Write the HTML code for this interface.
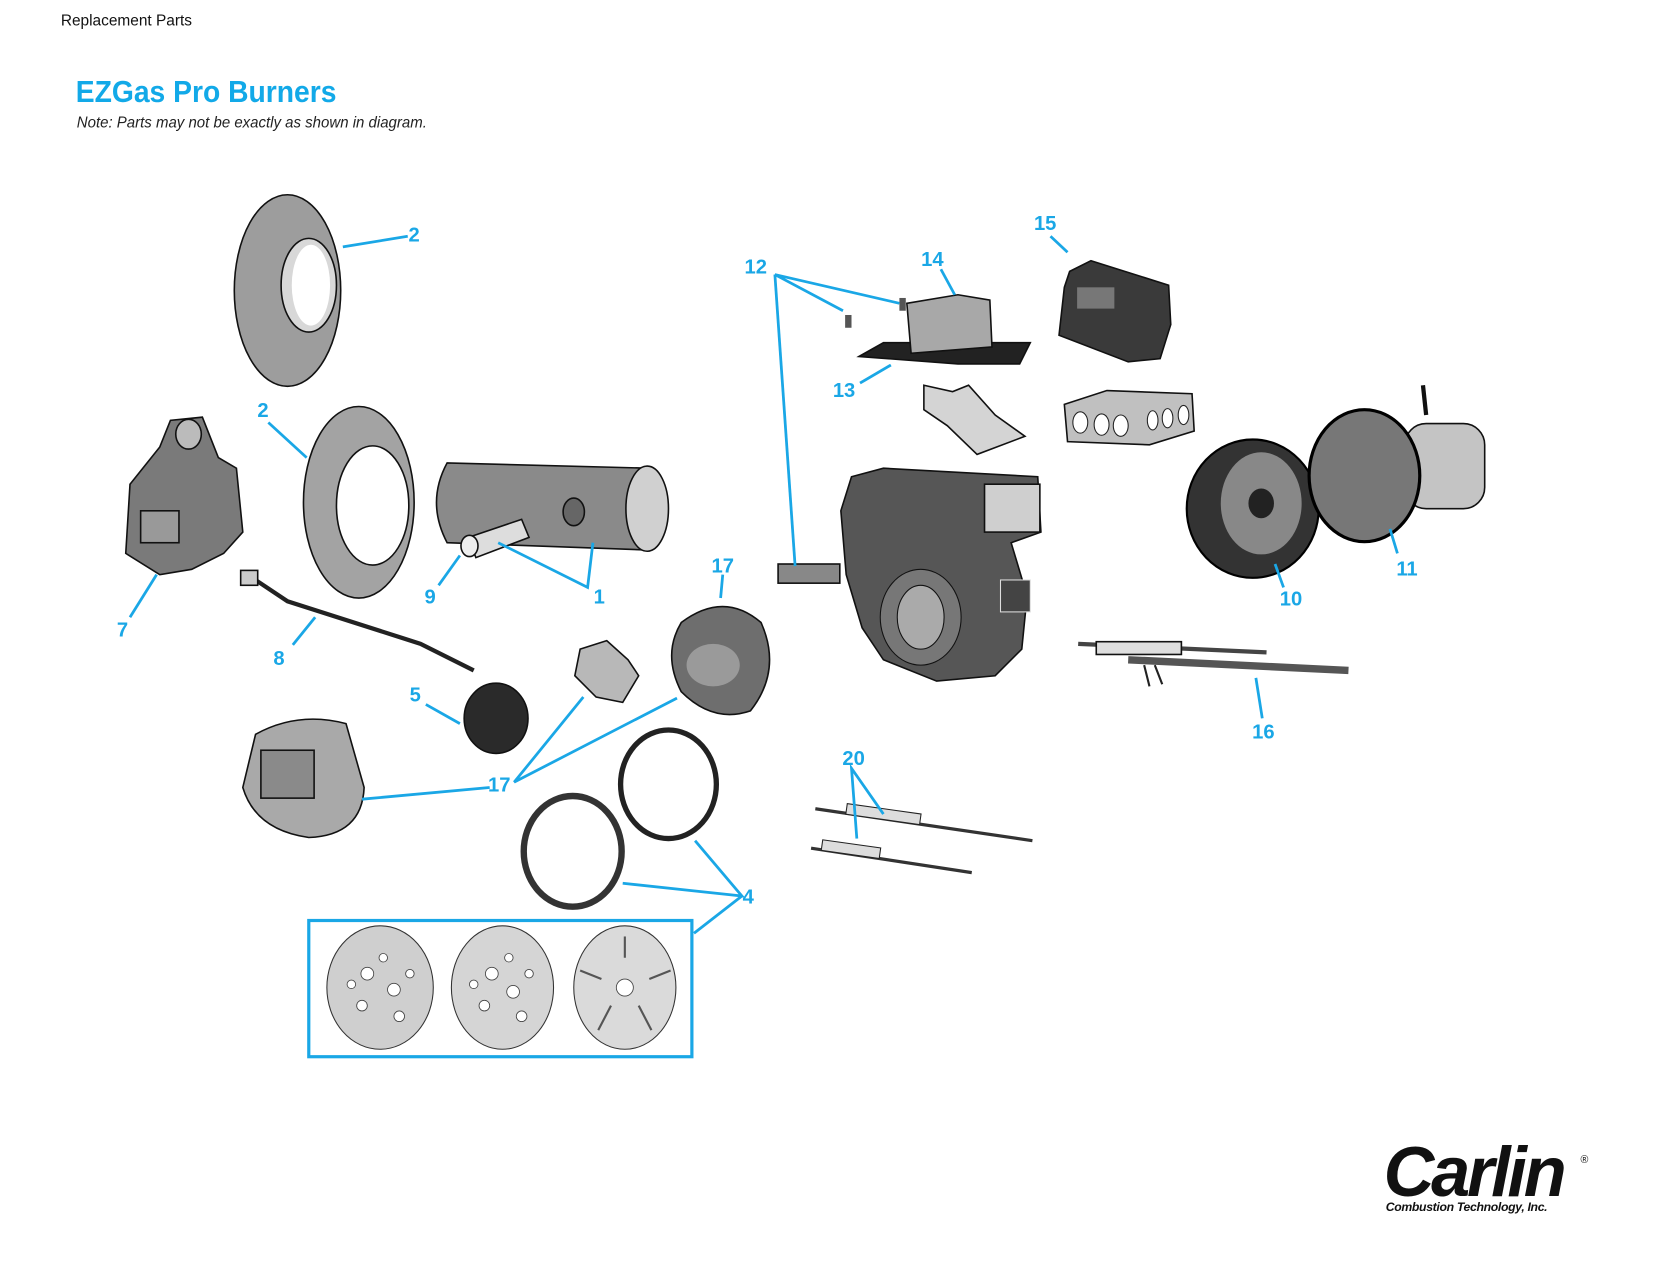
<!DOCTYPE html>
<html><head><meta charset="utf-8"><style>
html,body{margin:0;padding:0;background:#fff;}
svg{display:block;}
.lb{font-family:"Liberation Sans",sans-serif;font-weight:bold;font-size:19px;fill:#1aa7e6;text-anchor:middle;}
.ln{stroke:#1aa7e6;stroke-width:2.6;fill:none;}
.p{stroke:#111;stroke-width:1.5;}
</style></head><body>
<svg width="1653" height="1277" viewBox="0 0 1553 1200" xmlns="http://www.w3.org/2000/svg">
<text x="57" y="24" font-family="Liberation Sans, sans-serif" font-size="14.5" fill="#111">Replacement Parts</text>
<text x="71" y="96" font-family="Liberation Sans, sans-serif" font-weight="bold" font-size="29" fill="#12a9e8" textLength="245" lengthAdjust="spacingAndGlyphs">EZGas Pro Burners</text>
<text x="72" y="120" font-family="Liberation Sans, sans-serif" font-style="italic" font-size="15" fill="#222" textLength="329" lengthAdjust="spacingAndGlyphs">Note: Parts may not be exactly as shown in diagram.</text>

<ellipse class="p" cx="270" cy="273" rx="50" ry="90" fill="#9d9d9d"/>
<ellipse class="p" cx="290" cy="268" rx="26" ry="44" fill="#d8d8d8"/>
<ellipse cx="292" cy="268" rx="18" ry="38" fill="#fff"/>
<ellipse class="p" cx="337" cy="472" rx="52" ry="90" fill="#a3a3a3"/>
<ellipse class="p" cx="350" cy="475" rx="34" ry="56" fill="#fff"/>
<path class="p" d="M122 455 L150 420 L160 395 L190 392 L205 430 L222 440 L228 500 L210 520 L180 535 L150 540 L118 520 Z" fill="#7a7a7a"/>
<rect class="p" x="132" y="480" width="36" height="30" fill="#999"/>
<ellipse class="p" cx="177" cy="408" rx="12" ry="14" fill="#bbb"/>
<path d="M240 545 L270 565 L395 605 L445 630" stroke="#222" stroke-width="4" fill="none"/>
<rect class="p" x="226" y="536" width="16" height="14" fill="#ccc"/>
<path class="p" d="M420 435 L610 440 L612 517 L420 510 Q400 472 420 435 Z" fill="#8a8a8a"/>
<ellipse class="p" cx="608" cy="478" rx="20" ry="40" fill="#d0d0d0"/>
<ellipse class="p" cx="539" cy="481" rx="10" ry="13" fill="#666"/>
<path class="p" d="M440 505 L490 488 L497 505 L447 524 Z" fill="#ddd"/>
<ellipse class="p" cx="441" cy="513" rx="8" ry="10" fill="#eee"/>
<path class="p" d="M640 585 Q680 555 715 585 Q735 630 705 668 Q670 680 640 650 Q622 615 640 585 Z" fill="#6e6e6e"/>
<ellipse cx="670" cy="625" rx="25" ry="20" fill="#9a9a9a"/>
<path class="p" d="M545 610 L570 602 L590 620 L600 635 L585 660 L560 655 L540 635 Z" fill="#b8b8b8"/>
<ellipse class="p" cx="466" cy="675" rx="30" ry="33" fill="#2a2a2a"/>
<path class="p" d="M240 690 Q280 668 325 680 L342 740 Q340 785 290 787 Q240 780 228 740 Z" fill="#a9a9a9"/>
<rect class="p" x="245" y="705" width="50" height="45" fill="#8a8a8a"/>
<ellipse cx="628" cy="737" rx="45" ry="51" fill="none" stroke="#222" stroke-width="5"/>
<ellipse cx="538" cy="800" rx="46" ry="52" fill="none" stroke="#333" stroke-width="6"/>
<rect x="290" y="865" width="360" height="128" fill="none" stroke="#1aa7e6" stroke-width="3"/>
<ellipse cx="357" cy="928" rx="50" ry="58" fill="#cfcfcf" stroke="#333"/>
<ellipse cx="472" cy="928" rx="48" ry="58" fill="#d5d5d5" stroke="#333"/>
<ellipse cx="587" cy="928" rx="48" ry="58" fill="#dadada" stroke="#333"/>
<g fill="#fff" stroke="#444" stroke-width="0.8">
<circle cx="345" cy="915" r="6"/><circle cx="370" cy="930" r="6"/><circle cx="340" cy="945" r="5"/><circle cx="360" cy="900" r="4"/><circle cx="330" cy="925" r="4"/><circle cx="385" cy="915" r="4"/><circle cx="375" cy="955" r="5"/>
<circle cx="462" cy="915" r="6"/><circle cx="482" cy="932" r="6"/><circle cx="455" cy="945" r="5"/><circle cx="478" cy="900" r="4"/><circle cx="445" cy="925" r="4"/><circle cx="497" cy="915" r="4"/><circle cx="490" cy="955" r="5"/>
<circle cx="587" cy="928" r="8"/>
</g>
<g stroke="#555" stroke-width="2"><line x1="587" y1="900" x2="587" y2="880"/><line x1="610" y1="920" x2="630" y2="912"/><line x1="565" y1="920" x2="545" y2="912"/><line x1="600" y1="945" x2="612" y2="968"/><line x1="574" y1="945" x2="562" y2="968"/></g>
<rect class="p" x="731" y="530" width="58" height="18" fill="#888"/>
<path class="p" d="M807 335 L830 322 L968 322 L958 342 L900 342 Z" fill="#222"/>
<path class="p" d="M852 285 L900 277 L930 282 L932 326 L856 332 Z" fill="#a8a8a8"/>
<rect x="794" y="296" width="6" height="12" fill="#555"/><rect x="845" y="280" width="6" height="12" fill="#555"/>
<path class="p" d="M1005 255 L1025 245 L1098 268 L1100 305 L1090 337 L1060 340 L995 315 L1000 270 Z" fill="#3a3a3a"/>
<rect x="1012" y="270" width="35" height="20" fill="#777"/>
<path class="p" d="M868 362 L895 368 L910 362 L935 390 L963 410 L918 427 L890 400 L868 385 Z" fill="#d4d4d4"/>
<path class="p" d="M1000 380 L1040 367 L1120 370 L1122 405 L1080 418 L1003 415 Z" fill="#c0c0c0"/>
<g fill="#fff" stroke="#222"><ellipse cx="1015" cy="397" rx="7" ry="10"/><ellipse cx="1035" cy="399" rx="7" ry="10"/><ellipse cx="1053" cy="400" rx="7" ry="10"/><ellipse cx="1083" cy="395" rx="5" ry="9"/><ellipse cx="1097" cy="393" rx="5" ry="9"/><ellipse cx="1112" cy="390" rx="5" ry="9"/></g>
<path class="p" d="M800 448 L830 440 L975 448 L978 500 L950 510 L965 560 L960 610 L935 635 L880 640 L830 620 L810 590 L795 540 L790 480 Z" fill="#565656"/>
<rect class="p" x="925" y="455" width="52" height="45" fill="#cfcfcf"/>
<ellipse cx="865" cy="580" rx="38" ry="45" fill="#777" stroke="#111"/>
<ellipse cx="865" cy="580" rx="22" ry="30" fill="#aaa" stroke="#111"/>
<rect x="940" y="545" width="28" height="30" fill="#444" stroke="#ddd"/>
<ellipse cx="1177" cy="478" rx="62" ry="65" fill="#333" stroke="#000" stroke-width="2"/>
<ellipse cx="1185" cy="473" rx="38" ry="48" fill="#888"/>
<ellipse cx="1185" cy="473" rx="12" ry="14" fill="#222"/>
<rect class="p" x="1320" y="398" width="75" height="80" rx="20" fill="#c4c4c4"/>
<ellipse cx="1282" cy="447" rx="52" ry="62" fill="#777" stroke="#000" stroke-width="3"/>
<path d="M1337 362 L1340 390" stroke="#111" stroke-width="4"/>
<path d="M1013 605 L1190 613" stroke="#444" stroke-width="4"/>
<path d="M1060 620 L1267 630" stroke="#555" stroke-width="7"/>
<rect class="p" x="1030" y="603" width="80" height="12" fill="#ddd"/>
<path d="M1075 625 L1080 645 M1085 625 L1092 643" stroke="#222" stroke-width="2"/>
<path d="M766 760 L970 790" stroke="#333" stroke-width="3"/>
<path d="M762 797 L913 820" stroke="#333" stroke-width="3"/>
<rect x="795" y="760" width="70" height="10" fill="#ddd" stroke="#222" transform="rotate(8 830 765)"/>
<rect x="772" y="793" width="55" height="10" fill="#ddd" stroke="#222" transform="rotate(8 800 798)"/>

<g class="ln">
<path d="M322 232 L383 222"/>
<path d="M252 397 L288 430"/>
<path d="M147 540 L122 580"/>
<path d="M296 580 L275 606"/>
<path d="M432 522 L412 550"/>
<path d="M468 510 L552 552 L557 510"/>
<path d="M679 540 L677 562"/>
<path d="M400 662 L432 680"/>
<path d="M340 751 L460 740"/>
<path d="M548 655 L483 735 L636 656"/>
<path d="M653 790 L697 842 L585 830"/>
<path d="M652 877 L697 842"/>
<path d="M792 292 L728 258 L845 285"/>
<path d="M728 258 L747 532"/>
<path d="M808 360 L837 343"/>
<path d="M884 253 L897 277"/>
<path d="M987 222 L1003 237"/>
<path d="M1198 530 L1206 552"/>
<path d="M1306 497 L1313 520"/>
<path d="M1180 637 L1186 675"/>
<path d="M830 765 L800 722 L805 788"/>
</g>
<g class="lb">
<text x="389" y="227">2</text>
<text x="247" y="392">2</text>
<text x="115" y="598">7</text>
<text x="262" y="625">8</text>
<text x="404" y="567">9</text>
<text x="563" y="567">1</text>
<text x="679" y="538">17</text>
<text x="390" y="659">5</text>
<text x="469" y="744">17</text>
<text x="703" y="849">4</text>
<text x="710" y="257">12</text>
<text x="793" y="373">13</text>
<text x="876" y="250">14</text>
<text x="982" y="216">15</text>
<text x="1213" y="569">10</text>
<text x="1322" y="541">11</text>
<text x="1187" y="694">16</text>
<text x="802" y="719">20</text>
</g>
<text x="1300" y="1124" font-family="Liberation Sans, sans-serif" font-weight="bold" font-style="italic" font-size="66" fill="#111" letter-spacing="-3">Carlin</text>
<text x="1485" y="1093" font-family="Liberation Sans, sans-serif" font-size="10" fill="#111">®</text>
<text x="1302" y="1138" font-family="Liberation Sans, sans-serif" font-weight="bold" font-style="italic" font-size="11.5" fill="#111" letter-spacing="-0.3">Combustion Technology, Inc.</text>
</svg>
</body></html>
